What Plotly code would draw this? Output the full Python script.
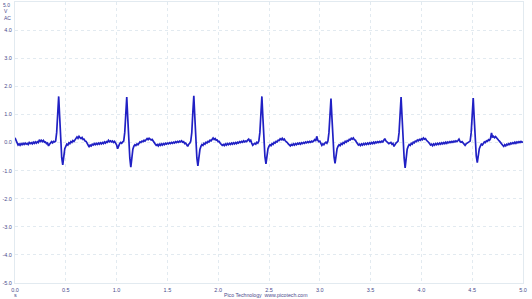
import plotly.graph_objects as go

# Sample interval of the captured trace (seconds)
dt = 0.01

# ECG-like trace values (V), one row per 0.1 s
rows = [
    [0.17, 0.09, -0.02, -0.09, -0.05, -0.10, -0.04, -0.08, -0.03, -0.07],
    [-0.02, -0.06, -0.03, -0.07, 0.00, -0.04, -0.01, -0.05, 0.01, -0.03],
    [0.02, -0.02, 0.03, 0.00, 0.10, 0.04, 0.08, 0.03, 0.07, 0.01],
    [0.02, -0.04, -0.02, -0.12, -0.06, -0.02, 0.03, -0.01, 0.04, 0.02],
    [0.05, 0.35, 1.05, 1.64, 0.90, 0.00, -0.55, -0.80, -0.40, -0.22],
    [-0.14, -0.06, -0.09, -0.01, -0.04, 0.03, 0.00, 0.07, 0.04, 0.10],
    [0.12, 0.20, 0.15, 0.22, 0.17, 0.14, 0.18, 0.11, 0.12, 0.05],
    [0.04, -0.03, -0.08, -0.16, -0.09, -0.12, -0.06, -0.09, -0.04, -0.08],
    [-0.03, -0.07, -0.02, -0.06, -0.01, -0.05, 0.00, -0.04, 0.02, -0.02],
    [0.03, 0.01, 0.08, 0.03, 0.06, 0.02, 0.05, 0.00, 0.04, -0.01],
    [-0.08, -0.22, -0.12, -0.04, 0.00, -0.03, 0.02, 0.05, 0.35, 1.05],
    [1.62, 0.85, 0.00, -0.55, -0.88, -0.42, -0.24, -0.13, -0.08, -0.11],
    [-0.05, -0.08, -0.02, 0.02, 0.00, 0.05, 0.03, 0.08, 0.05, 0.11],
    [0.14, 0.10, 0.15, 0.12, 0.09, 0.11, 0.04, 0.02, -0.05, -0.10],
    [-0.07, -0.12, -0.06, -0.10, -0.05, -0.09, -0.04, -0.08, -0.03, -0.06],
    [-0.02, -0.05, -0.01, -0.04, 0.00, -0.03, 0.01, -0.02, 0.03, 0.00],
    [0.04, 0.01, 0.05, 0.02, 0.06, 0.01, 0.03, -0.04, -0.02, -0.08],
    [-0.14, -0.06, -0.03, 0.05, 0.35, 1.05, 1.66, 0.90, 0.00, -0.55],
    [-0.83, -0.45, -0.25, -0.14, -0.07, -0.10, -0.03, -0.06, 0.01, -0.02],
    [0.04, 0.02, 0.08, 0.06, 0.12, 0.16, 0.11, 0.14, 0.08, 0.09],
    [0.03, 0.04, -0.03, -0.06, -0.10, -0.07, -0.11, -0.05, -0.09, -0.04],
    [-0.08, -0.03, -0.07, -0.02, -0.06, -0.01, -0.05, 0.00, -0.04, 0.01],
    [-0.02, 0.03, 0.00, 0.04, 0.01, 0.06, 0.02, 0.05, 0.03, 0.09],
    [0.12, 0.05, 0.08, -0.02, -0.10, -0.06, -0.03, -0.06, 0.01, -0.02],
    [0.05, 0.35, 1.05, 1.64, 0.88, 0.00, -0.50, -0.76, -0.40, -0.22],
    [-0.13, -0.08, -0.11, -0.04, -0.07, 0.00, -0.02, 0.04, 0.02, 0.08],
    [0.07, 0.13, 0.10, 0.15, 0.09, 0.12, 0.06, 0.04, 0.00, -0.05],
    [-0.08, -0.12, -0.07, -0.10, -0.05, -0.09, -0.04, -0.08, -0.03, -0.06],
    [-0.02, -0.06, -0.01, -0.04, 0.00, -0.03, 0.02, -0.01, 0.03, 0.00],
    [0.04, 0.01, 0.05, 0.02, 0.06, 0.10, 0.05, 0.22, 0.08, 0.03],
    [0.05, -0.04, -0.10, -0.05, -0.08, -0.02, 0.01, -0.03, 0.05, 0.35],
    [1.05, 1.56, 0.85, 0.00, -0.50, -0.74, -0.40, -0.22, -0.13, -0.08],
    [-0.11, -0.04, -0.07, 0.00, -0.03, 0.04, 0.01, 0.07, 0.05, 0.11],
    [0.09, 0.15, 0.12, 0.16, 0.10, 0.08, 0.02, -0.04, -0.09, -0.06],
    [-0.11, -0.05, -0.09, -0.04, -0.08, -0.03, -0.07, -0.02, -0.06, -0.01],
    [-0.05, 0.00, -0.04, 0.01, -0.03, 0.02, -0.01, 0.03, 0.00, 0.04],
    [0.01, 0.05, 0.02, 0.08, 0.14, 0.06, 0.03, 0.01, -0.04, -0.02],
    [0.00, -0.06, -0.03, -0.14, -0.07, -0.02, 0.01, 0.05, 0.35, 1.05],
    [1.62, 0.88, 0.00, -0.55, -0.90, -0.45, -0.24, -0.14, -0.07, -0.10],
    [-0.03, -0.06, 0.01, -0.01, 0.05, 0.03, 0.09, 0.06, 0.11, 0.08],
    [0.13, 0.10, 0.16, 0.12, 0.14, 0.08, 0.06, 0.01, -0.04, -0.09],
    [-0.06, -0.11, -0.05, -0.09, -0.04, -0.08, -0.03, -0.07, -0.02, -0.06],
    [-0.01, -0.05, 0.00, -0.04, 0.01, -0.03, 0.02, -0.01, 0.03, 0.00],
    [0.04, 0.01, 0.05, 0.02, 0.06, 0.03, 0.07, 0.12, 0.04, 0.01],
    [0.03, -0.02, -0.04, -0.10, -0.05, -0.02, 0.01, 0.04, 0.05, 0.35],
    [1.05, 1.58, 0.85, 0.00, -0.48, -0.72, -0.40, -0.22, -0.13, -0.06],
    [-0.09, -0.02, 0.02, 0.00, 0.06, 0.04, 0.10, 0.08, 0.14, 0.34],
    [0.18, 0.22, 0.17, 0.21, 0.15, 0.13, 0.08, 0.04, -0.02, -0.06],
    [-0.10, -0.14, -0.08, -0.12, -0.06, -0.09, -0.04, -0.07, -0.02, -0.05],
    [-0.01, -0.04, 0.01, -0.03, 0.02, -0.01, 0.03, 0.00, 0.04, 0.01],
    [0.03],
]
voltage = [v for r in rows for v in r]
time_s = [round(i * dt, 2) for i in range(len(voltage))]

x_ticks = [0.0, 0.5, 1.0, 1.5, 2.0, 2.5, 3.0, 3.5, 4.0, 4.5, 5.0]
y_ticks = [-5.0, -4.0, -3.0, -2.0, -1.0, 0.0, 1.0, 2.0, 3.0, 4.0]
y_top_label = "5.0"
x_tick_text = ["%.1f" % v for v in x_ticks]
y_tick_text = ["%.1f" % v for v in y_ticks]

label_color = "#4a4a8c"
grid_color = "#e2eaf0"
font_family = "Liberation Sans, Arial, sans-serif"

fig = go.Figure()
fig.add_trace(go.Scatter(
    x=time_s, y=voltage, mode="lines",
    line=dict(color="#2020c4", width=1.7),
    hoverinfo="skip", showlegend=False,
))

fig.update_layout(
    width=532, height=299,
    margin=dict(l=15, r=9, t=2, b=16),
    paper_bgcolor="white", plot_bgcolor="white",
    font=dict(family=font_family, size=6, color=label_color),
    xaxis=dict(
        range=[0, 5], tickmode="array", tickvals=x_ticks, ticktext=x_tick_text,
        showgrid=True, gridcolor=grid_color, griddash="dot", gridwidth=1,
        zeroline=False, showline=True, linecolor=grid_color, mirror=True,
        ticks="", tickfont=dict(size=5.5, color=label_color),
        ticklabelstandoff=1, fixedrange=True,
    ),
    yaxis=dict(
        range=[-5, 5], tickmode="array", tickvals=y_ticks, ticktext=y_tick_text,
        showgrid=True, gridcolor=grid_color, griddash="dot", gridwidth=1,
        zeroline=False, showline=True, linecolor=grid_color, mirror=True,
        ticks="", tickfont=dict(size=5.5, color=label_color),
        ticklabelstandoff=1, fixedrange=True,
    ),
    annotations=[
        dict(text=y_top_label, xref="paper", yref="paper", x=-0.016, y=1.0,
             xanchor="center", yanchor="top", yshift=2, showarrow=False,
             font=dict(size=5, color=label_color)),
        dict(text="V", xref="paper", yref="paper", x=-0.018, y=0.967,
             xanchor="center", yanchor="middle", showarrow=False,
             font=dict(size=5, color=label_color)),
        dict(text="AC", xref="paper", yref="paper", x=-0.015, y=0.942,
             xanchor="center", yanchor="middle", showarrow=False,
             font=dict(size=5, color=label_color)),
        dict(text="s", xref="paper", yref="paper", x=0.0, y=-0.043,
             xanchor="center", yanchor="middle", showarrow=False,
             font=dict(size=5.5, color=label_color)),
        dict(text="Pico Technology  www.picotech.com", xref="paper", yref="paper",
             x=0.494, y=-0.043, xanchor="center", yanchor="middle", showarrow=False,
             font=dict(size=5.2, color=label_color)),
    ],
)

fig.write_html("out.html")
